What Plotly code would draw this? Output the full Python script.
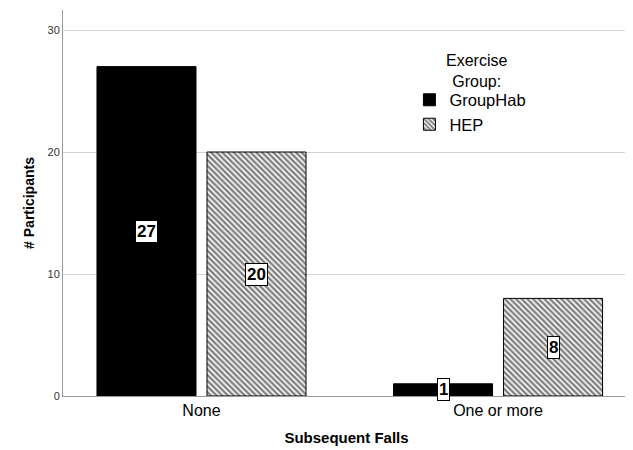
import plotly.graph_objects as go

categories = ["None", "One or more"]
grouphab = [27, 1]
hep = [20, 8]
y_ticks = [0, 10, 20, 30]
legend_title = "Exercise<br>Group:"

FONT = "Liberation Sans, Arial, sans-serif"

fig = go.Figure()
fig.add_trace(go.Bar(
    x=categories, y=grouphab, name="GroupHab",
    marker=dict(color="black", line=dict(color="black", width=1)),
))
fig.add_trace(go.Bar(
    x=categories, y=hep, name="HEP",
    marker=dict(color="white", line=dict(color="black", width=1),
                pattern=dict(shape="\\", fgcolor="black", bgcolor="white",
                             size=4, solidity=0.6)),
))

shift = 55
for vals, dx in ((grouphab, -shift), (hep, shift)):
    for c, v in zip(categories, vals):
        fig.add_annotation(
            x=c, y=v / 2, xref="x", yref="y", xshift=dx,
            text=f"<b>{v}</b>", showarrow=False,
            font=dict(family=FONT, size=17, color="black"),
            bgcolor="white", bordercolor="black", borderwidth=1, borderpad=1,
        )

fig.add_annotation(
    x=0.73, y=0.897, xref="paper", yref="paper", xanchor="center", yanchor="top",
    text=legend_title, showarrow=False, align="center",
    font=dict(family=FONT, size=16, color="black"),
)

# the page body has an 8px margin, so the figure is sized to fit the window
fig.update_layout(
    width=625, height=442,
    margin=dict(l=55, r=3, t=2, b=54, autoexpand=False),
    paper_bgcolor="white", plot_bgcolor="white",
    barmode="group", bargap=0.258, bargroupgap=0.1,
    font=dict(family=FONT, color="black"),
    showlegend=True,
    legend=dict(
        x=0.611, y=0.812, xanchor="left", yanchor="top",
        font=dict(family=FONT, size=16.5),
        tracegroupgap=0, itemwidth=30, bgcolor="rgba(0,0,0,0)",
    ),
)
fig.update_xaxes(
    type="category", range=[-0.467, 1.445], automargin=False,
    showline=True, linecolor="#999999", linewidth=1,
    showgrid=False, ticks="",
    tickfont=dict(family=FONT, size=16, color="black"),
    title=dict(text="<b>Subsequent Falls</b>", font=dict(family=FONT, size=15, color="black"), standoff=14),
)
fig.update_yaxes(
    range=[0, 31.64], tickvals=y_ticks, automargin=False,
    showline=True, linecolor="#999999", linewidth=1,
    showgrid=True, gridcolor="#d4d4d4", gridwidth=1,
    zeroline=False, ticks="",
    tickfont=dict(family=FONT, size=11, color="#333333"),
    title=dict(text="<b># Participants</b>", font=dict(family=FONT, size=14, color="black"), standoff=9),
)

fig.write_html("out.html")
